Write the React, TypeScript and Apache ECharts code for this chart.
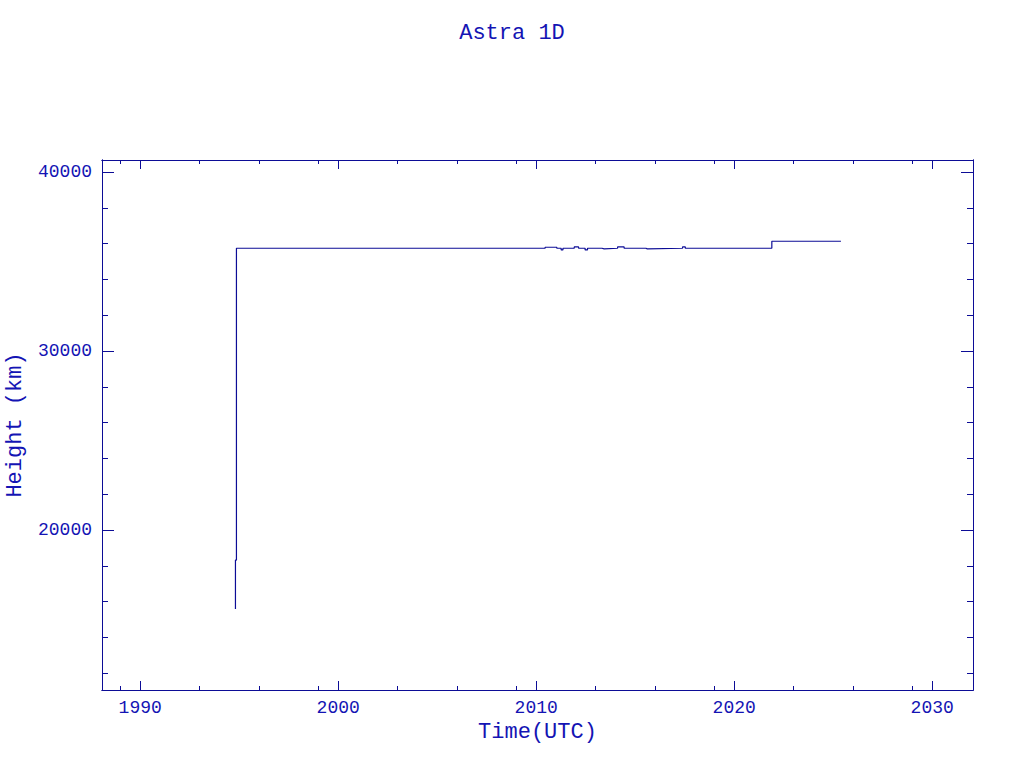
import React, { useEffect, useRef } from "react";
import * as echarts from "echarts";

const titleText = "Astra 1D";
const xName = "Time(UTC)";
const yName = "Height (km)";

// decimal years and heights (km) of the track
const times = [
  1994.81, 1994.81, 1994.86, 1994.86,
  2010.45, 2010.45, 2011.04, 2011.04,
  2011.26, 2011.26, 2011.35, 2011.35,
  2011.92, 2011.92, 2012.14, 2012.14,
  2012.47, 2012.47, 2012.59, 2012.59,
  2013.32, 2013.32, 2013.43, 2013.43,
  2014.11, 2014.11, 2014.44, 2014.44,
  2015.54, 2015.54, 2015.61, 2015.61,
  2017.39, 2017.39, 2017.53, 2017.53,
  2021.9, 2021.9, 2025.39,
];
const heights = [
  15590, 18320, 18320, 35740,
  35740, 35795, 35795, 35740,
  35740, 35645, 35645, 35740,
  35740, 35815, 35815, 35740,
  35740, 35647, 35647, 35740,
  35740, 35703, 35703, 35740,
  35740, 35815, 35815, 35740,
  35740, 35703, 35703, 35740,
  35740, 35815, 35815, 35740,
  35740, 36130, 36130,
];

const xMajorTicks = [1990, 2000, 2010, 2020, 2030];
const xMinorTicks = [1989, 1993, 1996, 1999, 2003, 2006, 2009, 2013, 2016, 2019, 2023, 2026, 2029];
const yMajorTicks = [20000, 30000, 40000];
const yMinorTicks = [12000, 14000, 16000, 18000, 22000, 24000, 26000, 28000, 32000, 34000, 36000, 38000];

const X_MIN = 1988.07;
const X_MAX = 2032.06;
const Y_MIN = 11060;
const Y_MAX = 40670;

const TEXT = "#1414b4";
const LINE = "#0c0c96";
const FONT = "Liberation Mono";

function xAxisDef(position: "top" | "bottom", ticks: number[], len: number, labels: boolean, name?: string) {
  return {
    type: "value",
    position,
    min: X_MIN,
    max: X_MAX,
    name: name,
    nameLocation: "middle",
    nameGap: 30,
    nameTextStyle: { color: TEXT, fontFamily: FONT, fontSize: 22 },
    axisLine: { show: true, onZero: false, lineStyle: { color: LINE, width: 1 } },
    axisTick: { show: true, inside: true, length: len, customValues: ticks, lineStyle: { color: LINE, width: 1 } },
    axisLabel: labels
      ? { show: true, customValues: ticks, margin: 9, color: TEXT, fontFamily: FONT, fontSize: 18, formatter: (v: number) => String(Math.round(v)) }
      : { show: false },
    splitLine: { show: false },
  };
}

function yAxisDef(position: "left" | "right", ticks: number[], len: number, labels: boolean, name?: string) {
  return {
    type: "value",
    position,
    min: Y_MIN,
    max: Y_MAX,
    name: name,
    nameLocation: "middle",
    nameGap: 76,
    nameRotate: 90,
    nameTextStyle: { color: TEXT, fontFamily: FONT, fontSize: 22 },
    axisLine: { show: true, onZero: false, lineStyle: { color: LINE, width: 1 } },
    axisTick: { show: true, inside: true, length: len, customValues: ticks, lineStyle: { color: LINE, width: 1 } },
    axisLabel: labels
      ? { show: true, customValues: ticks, margin: 10, color: TEXT, fontFamily: FONT, fontSize: 18, formatter: (v: number) => String(Math.round(v)) }
      : { show: false },
    splitLine: { show: false },
  };
}

export default function App() {
  const ref = useRef<HTMLDivElement>(null);
  useEffect(() => {
    if (!ref.current) return;
    const chart = echarts.init(ref.current, null, { renderer: "svg" });
    const data = times.map((t, i) => [t, heights[i]]);
    chart.setOption({
      animation: false,
      backgroundColor: "#ffffff",
      title: {
        text: titleText,
        left: "center",
        top: 17,
        textStyle: { color: TEXT, fontFamily: FONT, fontSize: 22, fontWeight: "normal" },
      },
      grid: { left: 102, right: 51, top: 160, bottom: 78, containLabel: false, outerBoundsMode: "none" },
      xAxis: [
        xAxisDef("bottom", xMajorTicks, 9, true, xName),
        xAxisDef("bottom", xMinorTicks, 4, false),
        xAxisDef("top", xMajorTicks, 9, false),
        xAxisDef("top", xMinorTicks, 4, false),
      ],
      yAxis: [
        yAxisDef("left", yMajorTicks, 12, true, yName),
        yAxisDef("left", yMinorTicks, 6, false),
        yAxisDef("right", yMajorTicks, 12, false),
        yAxisDef("right", yMinorTicks, 6, false),
      ],
      series: [
        {
          type: "line",
          xAxisIndex: 0,
          yAxisIndex: 0,
          data,
          showSymbol: false,
          symbol: "none",
          lineStyle: { color: LINE, width: 1.2 },
        },
      ],
    });
    return () => chart.dispose();
  }, []);
  return (
    <div
      ref={ref}
      style={{ position: "absolute", left: 0, top: 0, width: 1024, height: 768, background: "#fff" }}
    />
  );
}
